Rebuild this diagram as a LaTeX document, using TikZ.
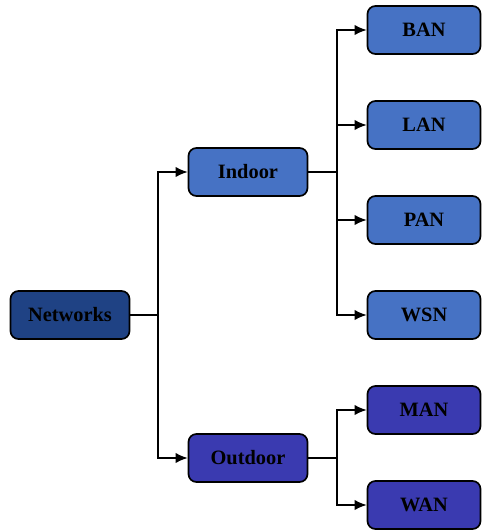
\documentclass[tikz,border=0pt]{standalone}
\usepackage{fontspec}
\setmainfont{Liberation Serif}
\usepackage{tikz}
\usetikzlibrary{arrows,arrows.meta}
\usetikzlibrary{calc}
\usetikzlibrary{positioning}

\definecolor{netblue}{RGB}{31,66,132}
\definecolor{inblue}{RGB}{70,114,196}
\definecolor{outblue}{RGB}{58,58,176}

\tikzset{
	netbox/.style={draw=black, line width=1.2pt, rounded corners=2mm, minimum height=12mm, inner sep=0pt, font=\fontsize{14.5}{16}\selectfont\bfseries, text=black},
	bigbox/.style={netbox, minimum width=29.75mm},
	leafbox/.style={netbox, minimum width=28.25mm},
	link/.style={line width=1.2pt},
	arr/.style={link, -{Latex[length=3mm,width=2.6mm]}}
}

\begin{document}
\begin{tikzpicture}[x=0.25mm, y=-0.25mm]
		\useasboundingbox (0,0) rectangle (484,531);
		% main
		\node[bigbox, fill=netblue] (net) at (70,315) {Networks};
		\node[bigbox, fill=inblue] (indoor) at (248,172) {Indoor};
		\node[bigbox, fill=outblue] (outdoor) at (248,458) {Outdoor};
		% indoor networks
		\node[leafbox, fill=inblue] (ban) at (424,30) {BAN};
		\node[leafbox, fill=inblue] (lan) at (424,125) {LAN};
		\node[leafbox, fill=inblue] (pan) at (424,220) {PAN};
		\node[leafbox, fill=inblue] (wsn) at (424,315) {WSN};
		% outdoor networks
		\node[leafbox, fill=outblue] (man) at (424,410) {MAN};
		\node[leafbox, fill=outblue] (wan) at (424,505) {WAN};
		% branch points
		\coordinate (s1) at (158,315);
		\coordinate (s2) at (337,172);
		\coordinate (s3) at (337,458);
		\draw[link] (net) -- (s1);
		\draw[arr] (s1) |- (indoor);
		\draw[arr] (s1) |- (outdoor);
		\draw[link] (indoor) -- (s2);
		\draw[arr] (s2) |- (ban);
		\draw[arr] (s2) |- (lan);
		\draw[arr] (s2) |- (pan);
		\draw[arr] (s2) |- (wsn);
		\draw[link] (outdoor) -- (s3);
		\draw[arr] (s3) |- (man);
		\draw[arr] (s3) |- (wan);
	\end{tikzpicture}
\end{document}
